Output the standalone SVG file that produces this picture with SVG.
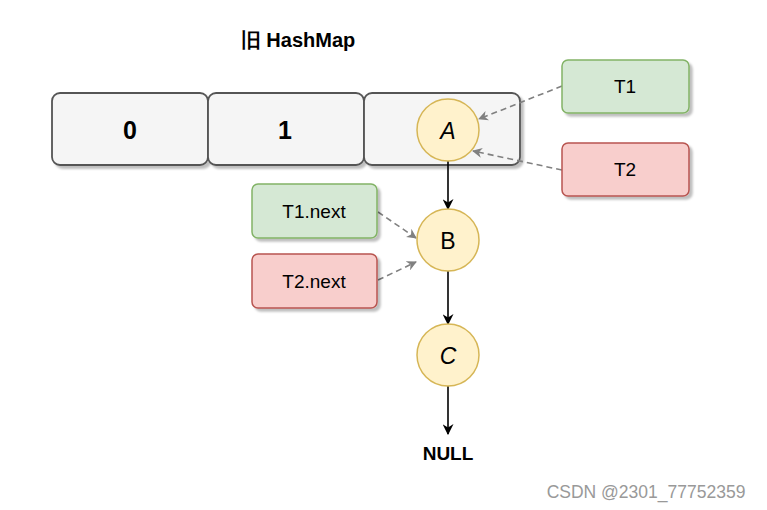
<svg xmlns="http://www.w3.org/2000/svg" width="767" height="510" viewBox="0 0 767 510">
<defs>
<filter id="sh" x="-10%" y="-10%" width="130%" height="140%">
<feDropShadow dx="3" dy="3" stdDeviation="1.2" flood-color="#000" flood-opacity="0.25"/>
</filter>
<marker id="ab" viewBox="0 0 10 10" refX="9" refY="5" markerWidth="11" markerHeight="11" orient="auto" markerUnits="userSpaceOnUse">
<path d="M0,0 L10,5 L0,10 L3,5 Z" fill="#000"/>
</marker>
<marker id="ag" viewBox="0 0 10 10" refX="9" refY="5" markerWidth="10" markerHeight="10" orient="auto" markerUnits="userSpaceOnUse">
<path d="M0,0 L10,5 L0,10 L3,5 Z" fill="#808080"/>
</marker>
</defs>
<style>
.t{font-family:"Liberation Sans",Arial,sans-serif;fill:#000;text-anchor:middle;dominant-baseline:central}
.cell{fill:#f5f5f5;stroke:#555;stroke-width:1.8;filter:url(#sh)}
.g{fill:#d5e8d4;stroke:#82b366;stroke-width:1.5;filter:url(#sh)}
.r{fill:#f8cecc;stroke:#b85450;stroke-width:1.5;filter:url(#sh)}
.c{fill:#fff2cc;stroke:#d6b656;stroke-width:1.5}
.e{fill:none;stroke:#000;stroke-width:1.6;marker-end:url(#ab)}
.d{fill:none;stroke:#808080;stroke-width:1.6;stroke-dasharray:6 4;marker-end:url(#ag)}
</style>
<text class="t" x="298" y="40" font-size="20" font-weight="bold" font-family="Liberation Sans, Noto Sans CJK SC, sans-serif">旧 HashMap</text>
<g id="cell0"><rect class="cell" x="52" y="93" width="156" height="72" rx="8"/><text class="t" x="130" y="130" font-size="25" font-weight="bold">0</text></g>
<g id="cell1"><rect class="cell" x="208" y="93" width="156" height="72" rx="8"/><text class="t" x="285" y="130" font-size="25" font-weight="bold">1</text></g>
<g id="cell2"><rect class="cell" x="364" y="93" width="156" height="72" rx="8"/></g>
<g id="connectors">
<path class="e" d="M448,161 L448,209"/>
<path class="e" d="M448,271 L448,324"/>
<path class="e" d="M448,386 L448,434"/>
<path class="d" d="M562,86 L479,119"/>
<path class="d" d="M562,170 L473,151"/>
<path class="d" d="M378,212 L416,238"/>
<path class="d" d="M378,280 L416,262"/>
</g>
<g id="A"><circle class="c" cx="448" cy="130" r="31"/><text class="t" x="448" y="131" font-size="23" font-style="italic">A</text></g>
<g id="B"><circle class="c" cx="448" cy="240" r="31"/><text class="t" x="448" y="241" font-size="23">B</text></g>
<g id="C"><circle class="c" cx="448" cy="355" r="31"/><text class="t" x="448" y="356" font-size="23" font-style="italic">C</text></g>
<g id="NULL"><text class="t" x="448" y="453" font-size="19" font-weight="bold">NULL</text></g>
<g id="T1"><rect class="g" x="562" y="60" width="127" height="53" rx="6"/><text class="t" x="625" y="86" font-size="19">T1</text></g>
<g id="T2"><rect class="r" x="562" y="143" width="127" height="53" rx="6"/><text class="t" x="625" y="169" font-size="19">T2</text></g>
<g id="T1next"><rect class="g" x="252" y="184" width="125" height="54" rx="6"/><text class="t" x="314" y="211" font-size="19">T1.next</text></g>
<g id="T2next"><rect class="r" x="252" y="254" width="125" height="54" rx="6"/><text class="t" x="314" y="281" font-size="19">T2.next</text></g>
<text x="646" y="492" font-family="Liberation Sans, Arial, sans-serif" font-size="17.5" fill="#999" text-anchor="middle" dominant-baseline="central">CSDN @2301_77752359</text>
</svg>
